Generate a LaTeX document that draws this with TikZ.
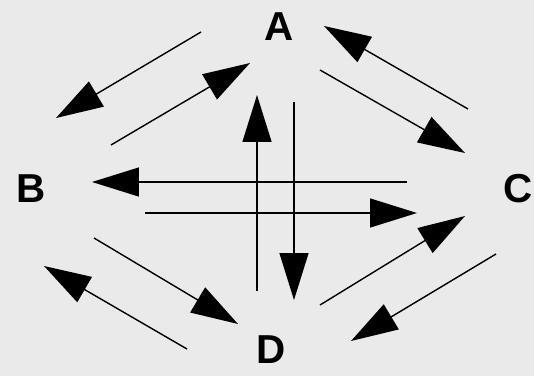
\documentclass[tikz,border=0pt]{standalone}
\usepackage{fontspec}
\setmainfont{Liberation Sans}
\usetikzlibrary{arrows.meta}
\definecolor{paper}{RGB}{234,234,234}

\begin{document}
\begin{tikzpicture}[x=0.02cm, y=-0.02cm, line width=0.8pt,
  flow/.style={-{Triangle[length=0.94cm, width=0.58cm]}},
  state/.style={font=\fontsize{23}{26}\selectfont\bfseries, inner sep=0pt}]
  \fill[paper] (0,0) rectangle (534,376);
  \useasboundingbox (0,0) rectangle (534,376);

  \node[state] (A) at (279,27) {A};
  \node[state] (B) at (31,189) {B};
  \node[state] (C) at (518,189) {C};
  \node[state] (D) at (271,350) {D};

  % ends of the arrows
  \coordinate (ab1) at (201,32);  \coordinate (ab2) at (56,118);
  \coordinate (ba1) at (111,145); \coordinate (ba2) at (250,63);
  \coordinate (ca1) at (468,109); \coordinate (ca2) at (324,26);
  \coordinate (ac1) at (320,70);  \coordinate (ac2) at (465,153);
  \coordinate (cb1) at (407,182); \coordinate (cb2) at (92,182);
  \coordinate (bc1) at (145,213); \coordinate (bc2) at (417,213);
  \coordinate (da1) at (257,291); \coordinate (da2) at (257,95);
  \coordinate (ad1) at (294,102); \coordinate (ad2) at (294,300);
  \coordinate (bd1) at (94,238);  \coordinate (bd2) at (238,324);
  \coordinate (db1) at (187,349); \coordinate (db2) at (44,266);
  \coordinate (dc1) at (320,305); \coordinate (dc2) at (465,216);
  \coordinate (cd1) at (496,254); \coordinate (cd2) at (351,341);

  \draw[flow] (ab1) -- (ab2);
  \draw[flow] (ba1) -- (ba2);
  \draw[flow] (ca1) -- (ca2);
  \draw[flow] (ac1) -- (ac2);
  \draw[flow] (cb1) -- (cb2);
  \draw[flow] (bc1) -- (bc2);
  \draw[flow] (da1) -- (da2);
  \draw[flow] (ad1) -- (ad2);
  \draw[flow] (bd1) -- (bd2);
  \draw[flow] (db1) -- (db2);
  \draw[flow] (dc1) -- (dc2);
  \draw[flow] (cd1) -- (cd2);
\end{tikzpicture}
\end{document}
